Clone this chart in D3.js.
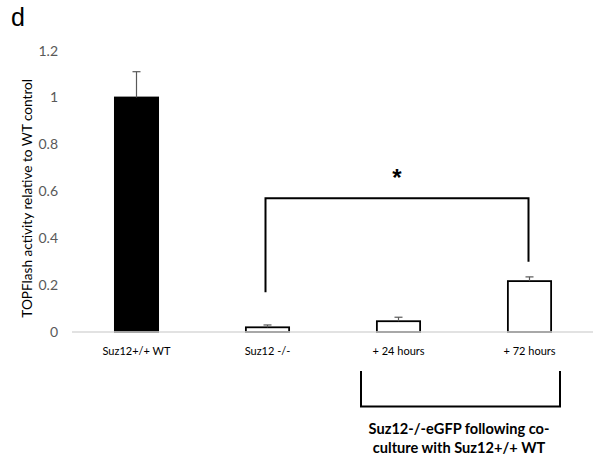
<!DOCTYPE html>
<html>
<head>
<meta charset="utf-8">
<script src="https://cdn.jsdelivr.net/npm/d3@7"></script>
<style>
  body { margin: 0; background: #fff; }
  text { font-family: Lato, "Open Sans", sans-serif; }
</style>
</head>
<body>
<svg id="chart" width="597" height="461"></svg>
<script>
// chart data
const categories = ["Suz12+/+ WT", "Suz12 -/-", "+ 24 hours", "+ 72 hours"];
const values = [1.0, 0.02, 0.046, 0.217];
const errors = [0.11, 0.01, 0.017, 0.018];
const fills = ["#000", "#fff", "#fff", "#fff"];
const yTicks = [0, 0.2, 0.4, 0.6, 0.8, 1, 1.2];
const sigLevel = 0.57;          // height of the significance bracket
const sigFoot = [0.17, 0.3];    // where the bracket legs end (left, right)
const groupLabel = ["Suz12-/-eGFP following co-", "culture with Suz12+/+ WT"];

const svg = d3.select("#chart");

const x = d3.scaleBand()
    .domain(categories)
    .range([71, 595])
    .paddingInner(0.67)
    .paddingOuter(0.335);

const y = d3.scaleLinear()
    .domain([0, 1.2])
    .range([332, 50.6]);

// panel letter
svg.append("text")
    .attr("x", 11).attr("y", 26)
    .attr("font-size", 25)
    .attr("fill", "#000")
    .style("font-family", "'Liberation Sans', Arial, sans-serif")
    .text("d");

// y axis: tick labels only, no line
const yAxis = svg.append("g")
    .attr("transform", "translate(62,0)")
    .call(d3.axisLeft(y).tickValues(yTicks).tickSize(0).tickPadding(4)
        .tickFormat(d => d3.format("")(d)));
yAxis.select(".domain").remove();
yAxis.selectAll("text")
    .attr("font-size", 14)
    .attr("fill", "#595959")
    .style("font-family", "Lato, sans-serif");

// y axis title
svg.append("text")
    .attr("transform", "translate(32," + y(0.57) + ") rotate(-90)")
    .attr("text-anchor", "middle")
    .attr("font-size", 13.6)
    .attr("fill", "#000")
    .text("TOPFlash activity relative to WT control");

// bars
svg.append("g").selectAll("rect")
    .data(categories)
    .join("rect")
    .attr("x", d => x(d))
    .attr("y", (d, i) => y(values[i]))
    .attr("width", x.bandwidth())
    .attr("height", (d, i) => y(0) - y(values[i]))
    .attr("fill", (d, i) => fills[i])
    .attr("stroke", "#000")
    .attr("stroke-width", 1.8);

// baseline
svg.append("line")
    .attr("x1", 72).attr("x2", 593)
    .attr("y1", y(0)).attr("y2", y(0))
    .attr("stroke", "#d9d9d9")
    .attr("stroke-width", 1.5);

// error bars (upper only)
const err = svg.append("g").attr("stroke", "#595959").attr("stroke-width", 1.2);
categories.forEach((c, i) => {
    const cx = x(c) + x.bandwidth() / 2;
    err.append("line")
        .attr("x1", cx).attr("x2", cx)
        .attr("y1", y(values[i])).attr("y2", y(values[i] + errors[i]));
    err.append("line")
        .attr("x1", cx - 4).attr("x2", cx + 4)
        .attr("y1", y(values[i] + errors[i])).attr("y2", y(values[i] + errors[i]));
});

// category labels
svg.append("g").selectAll("text")
    .data(categories)
    .join("text")
    .attr("x", d => x(d) + x.bandwidth() / 2)
    .attr("y", 355)
    .attr("text-anchor", "middle")
    .attr("font-size", 11)
    .attr("fill", "#000")
    .text(d => d);

// significance bracket between Suz12 -/- and +72 hours
const bx1 = x(categories[1]) + x.bandwidth() / 2 - 2;
const bx2 = x(categories[3]) + x.bandwidth() / 2 - 1;
svg.append("path")
    .attr("d", d3.line()([[bx1, y(sigFoot[0])], [bx1, y(sigLevel)], [bx2, y(sigLevel)], [bx2, y(sigFoot[1])]]))
    .attr("fill", "none")
    .attr("stroke", "#000")
    .attr("stroke-width", 2);

svg.append("text")
    .attr("x", (bx1 + bx2) / 2)
    .attr("y", 186)
    .attr("text-anchor", "middle")
    .attr("font-size", 24)
    .attr("font-weight", "bold")
    .attr("fill", "#000")
    .style("font-family", "'Liberation Sans', Arial, sans-serif")
    .text("*");

// lower grouping bracket
const gx1 = 361, gx2 = 560;
svg.append("path")
    .attr("d", d3.line()([[gx1, 371], [gx1, 406.5], [gx2, 406.5], [gx2, 371]]))
    .attr("fill", "none")
    .attr("stroke", "#000")
    .attr("stroke-width", 2);

svg.append("g").selectAll("text")
    .data(groupLabel)
    .join("text")
    .attr("x", 459)
    .attr("y", (d, i) => 434 + i * 19)
    .attr("text-anchor", "middle")
    .attr("font-size", 14.6)
    .attr("font-weight", "bold")
    .attr("fill", "#000")
    .text(d => d);
</script>
</body>
</html>
